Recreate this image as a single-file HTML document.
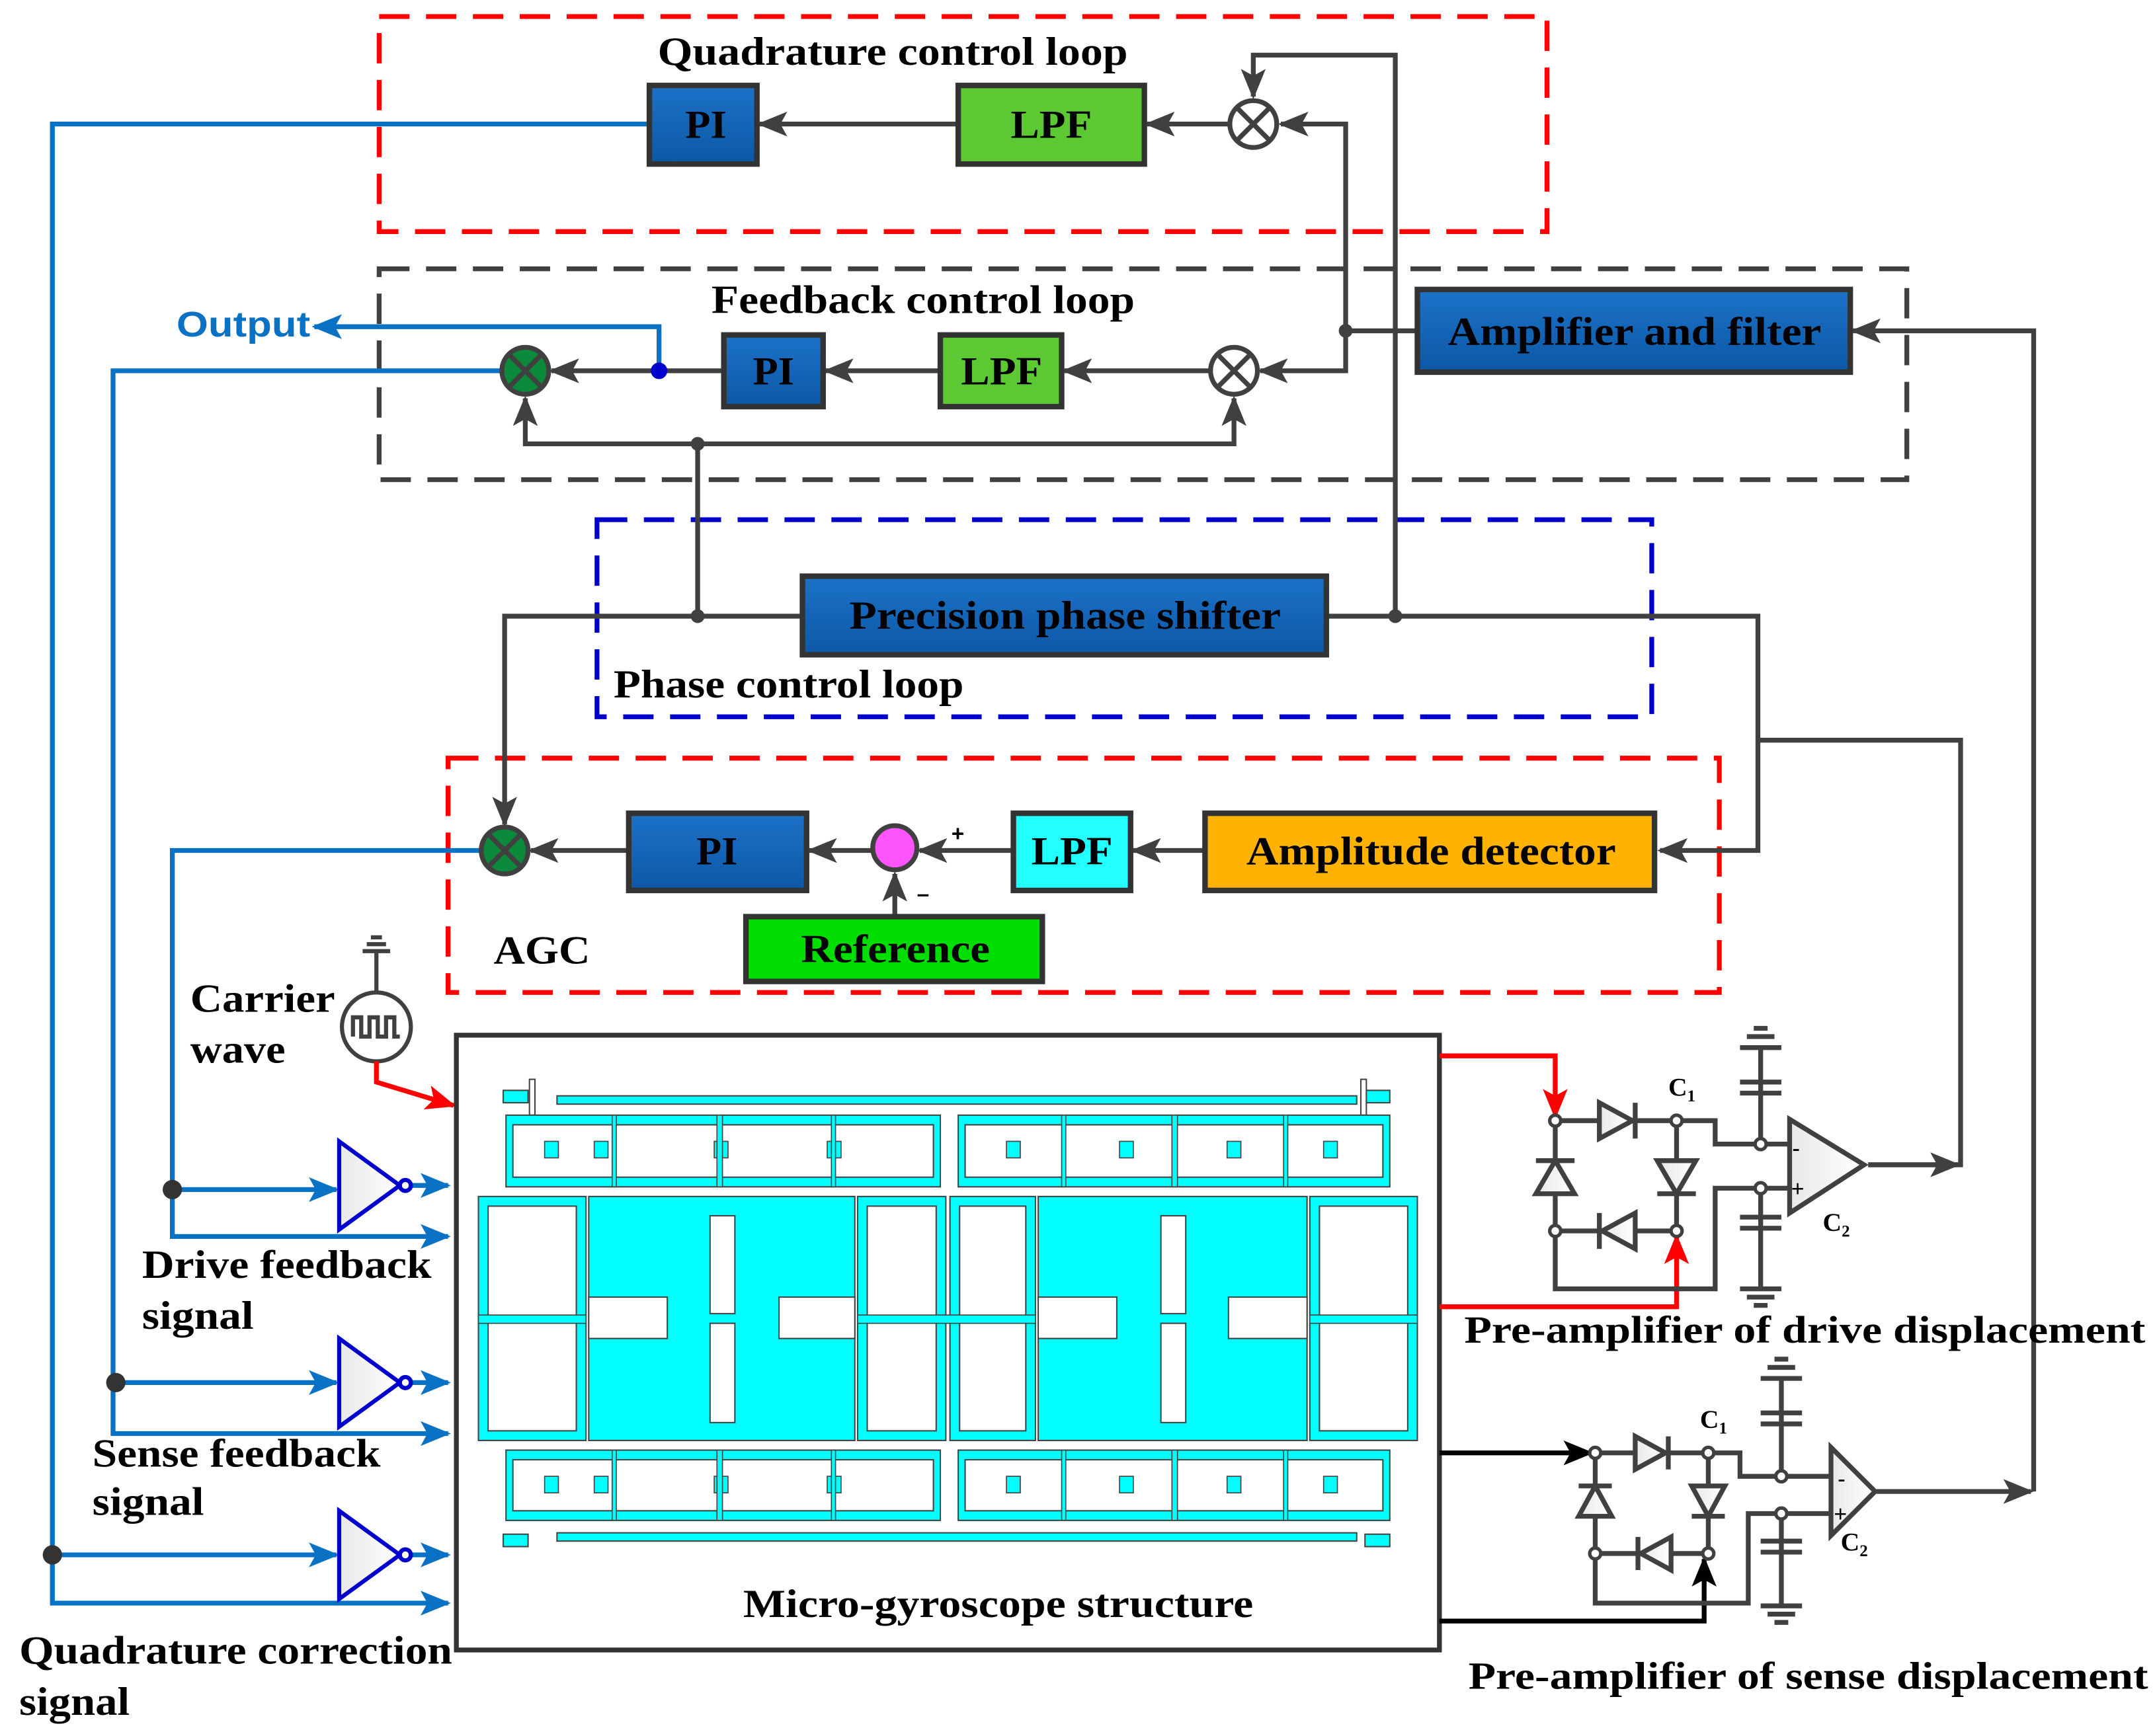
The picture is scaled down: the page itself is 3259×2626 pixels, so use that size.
<!DOCTYPE html>
<html><head><meta charset="utf-8"><style>
html,body{margin:0;padding:0;background:#fff;}
svg{display:block;}
text{font-family:"Liberation Serif",serif;font-weight:bold;}
</style></head><body>
<svg width="3259" height="2626" viewBox="0 0 1563 1259.4" preserveAspectRatio="none" xmlns="http://www.w3.org/2000/svg">
<defs>
<marker id="ag" markerUnits="userSpaceOnUse" markerWidth="22" markerHeight="18" refX="20" refY="9" orient="auto"><path d="M0,0 L22,9 L0,18 L5,9 Z" fill="#404040"/></marker>
<marker id="ab" markerUnits="userSpaceOnUse" markerWidth="22" markerHeight="18" refX="20" refY="9" orient="auto"><path d="M0,0 L22,9 L0,18 L5,9 Z" fill="#0a72c4"/></marker>
<marker id="ar" markerUnits="userSpaceOnUse" markerWidth="22" markerHeight="18" refX="20" refY="9" orient="auto"><path d="M0,0 L22,9 L0,18 L5,9 Z" fill="#ff0000"/></marker>
<marker id="ak" markerUnits="userSpaceOnUse" markerWidth="22" markerHeight="18" refX="20" refY="9" orient="auto"><path d="M0,0 L22,9 L0,18 L5,9 Z" fill="#000"/></marker>
<linearGradient id="bl" x1="0" y1="0" x2="0" y2="1"><stop offset="0" stop-color="#1c72c8"/><stop offset="1" stop-color="#0c58a6"/></linearGradient>
<linearGradient id="tri" x1="0" y1="0" x2="1" y2="0"><stop offset="0" stop-color="#e8e8e8"/><stop offset="1" stop-color="#fff"/></linearGradient>
</defs>

<rect x="275" y="12" width="847" height="156" fill="none" stroke="#ff0000" stroke-width="3.5" stroke-dasharray="22,12"/>
<rect x="275" y="195" width="1108" height="153" fill="none" stroke="#404040" stroke-width="3.5" stroke-dasharray="22,12"/>
<rect x="433" y="377" width="765" height="143" fill="none" stroke="#0000cc" stroke-width="3.5" stroke-dasharray="22,12"/>
<rect x="325" y="550" width="922" height="170" fill="none" stroke="#ff0000" stroke-width="3.5" stroke-dasharray="22,12"/>

<g font-size="29" lengthAdjust="spacingAndGlyphs">
<text x="477" y="47" textLength="341" lengthAdjust="spacingAndGlyphs">Quadrature control loop</text>
<text x="516" y="227" textLength="307" lengthAdjust="spacingAndGlyphs">Feedback control loop</text>
<text x="445" y="506" textLength="254" lengthAdjust="spacingAndGlyphs">Phase control loop</text>
<text x="358" y="699" textLength="70" lengthAdjust="spacingAndGlyphs">AGC</text>
</g>

<g fill="none" stroke="#404040" stroke-width="3.5">
<path d="M1012,447 V40 H909 V70" marker-end="url(#ag)"/>
<path d="M976,240 V90 H929" marker-end="url(#ag)"/>
<path d="M892,90 H832" marker-end="url(#ag)"/>
<path d="M695,90 H551" marker-end="url(#ag)"/>
<path d="M1028,240 H976 V269 H914" marker-end="url(#ag)"/>
<path d="M878,269 H772" marker-end="url(#ag)"/>
<path d="M682,269 H599" marker-end="url(#ag)"/>
<path d="M525,269 H400" marker-end="url(#ag)"/>
<path d="M506,322 H381 V289" marker-end="url(#ag)"/>
<path d="M506,322 H895 V289" marker-end="url(#ag)"/>
<path d="M506,322 V447"/>
<path d="M582,447 H366 V598" marker-end="url(#ag)"/>
<path d="M962,447 H1275 V617 H1204" marker-end="url(#ag)"/>
<path d="M1275,537 H1422 V845 H1355"/>
<path d="M874,617 H822" marker-end="url(#ag)"/>
<path d="M735,617 H667" marker-end="url(#ag)"/>
<path d="M632,617 H587" marker-end="url(#ag)"/>
<path d="M456,617 H385" marker-end="url(#ag)"/>
<path d="M649,665 V634" marker-end="url(#ag)"/>
<path d="M1355,845 H1420" marker-end="url(#ag)"/>
<path d="M1361,1082 H1473" marker-end="url(#ag)"/>
<path d="M1475,1082 V240 H1344" marker-end="url(#ag)"/>
</g>
<g fill="#404040"><circle cx="976" cy="240" r="5"/><circle cx="1012" cy="447" r="5"/><circle cx="506" cy="447" r="5"/><circle cx="506" cy="322" r="5"/></g>

<g fill="none" stroke="#0a72c4" stroke-width="3.5">
<path d="M471,90 H38 V1163 H325" marker-end="url(#ab)"/>
<path d="M363,269 H82 V1040 H325" marker-end="url(#ab)"/>
<path d="M349,617 H125 V897 H325" marker-end="url(#ab)"/>
<path d="M478,269 V237 H228" marker-end="url(#ab)"/>
<path d="M125,863 H244" marker-end="url(#ab)"/>
<path d="M84,1003 H244" marker-end="url(#ab)"/>
<path d="M38,1128 H244" marker-end="url(#ab)"/>
<path d="M298,860 H325" marker-end="url(#ab)"/>
<path d="M298,1003 H325" marker-end="url(#ab)"/>
<path d="M298,1128 H325" marker-end="url(#ab)"/>
</g>
<circle cx="478" cy="269" r="6" fill="#0000cc"/>
<g fill="#333"><circle cx="125" cy="863" r="7"/><circle cx="84" cy="1003" r="7"/><circle cx="38" cy="1128" r="7"/></g>
<text x="128" y="244" font-size="26" fill="#0a72c4" textLength="97" lengthAdjust="spacingAndGlyphs" style="font-family:'Liberation Sans',sans-serif">Output</text>

<g stroke="#0000cc" stroke-width="3" fill="url(#tri)">
<path d="M246,828 L290,860 L246,892 Z"/><circle cx="294" cy="860" r="4" fill="#fff"/>
<path d="M246,971 L290,1003 L246,1035 Z"/><circle cx="294" cy="1003" r="4" fill="#fff"/>
<path d="M246,1096 L290,1128 L246,1160 Z"/><circle cx="294" cy="1128" r="4" fill="#fff"/>
</g>

<g stroke="#333" stroke-width="4">
<rect x="471" y="62" width="78" height="57" fill="url(#bl)"/>
<rect x="695" y="62" width="135" height="57" fill="#5cc832"/>
<rect x="1028" y="210" width="314" height="60" fill="url(#bl)"/>
<rect x="525" y="243" width="72" height="52" fill="url(#bl)"/>
<rect x="682" y="243" width="88" height="52" fill="#5cc832"/>
<rect x="582" y="418" width="380" height="57" fill="url(#bl)"/>
<rect x="456" y="590" width="129" height="56" fill="url(#bl)"/>
<rect x="735" y="590" width="85" height="56" fill="#22ffff"/>
<rect x="874" y="590" width="326" height="56" fill="#ffb300"/>
<rect x="541" y="665" width="215" height="47" fill="#00dd00"/>
</g>
<g font-size="29">
<text x="497" y="100" textLength="30" lengthAdjust="spacingAndGlyphs">PI</text>
<text x="733" y="100" textLength="59" lengthAdjust="spacingAndGlyphs">LPF</text>
<text x="1050" y="250" textLength="271" lengthAdjust="spacingAndGlyphs">Amplifier and filter</text>
<text x="546" y="279" textLength="30" lengthAdjust="spacingAndGlyphs">PI</text>
<text x="697" y="279" textLength="59" lengthAdjust="spacingAndGlyphs">LPF</text>
<text x="616" y="456" textLength="313" lengthAdjust="spacingAndGlyphs">Precision phase shifter</text>
<text x="505" y="627" textLength="30" lengthAdjust="spacingAndGlyphs">PI</text>
<text x="748" y="627" textLength="59" lengthAdjust="spacingAndGlyphs">LPF</text>
<text x="904" y="627" textLength="268" lengthAdjust="spacingAndGlyphs">Amplitude detector</text>
<text x="581" y="698" textLength="137" lengthAdjust="spacingAndGlyphs">Reference</text>
</g>

<g stroke="#404040" stroke-width="3.5">
<circle cx="909" cy="90" r="17" fill="#fff"/><path d="M897,78 L921,102 M921,78 L897,102"/>
<circle cx="895" cy="269" r="17" fill="#fff"/><path d="M883,257 L907,281 M907,257 L883,281"/>
<circle cx="381" cy="269" r="17" fill="#0a8a3a"/><path d="M369,257 L393,281 M393,257 L369,281"/>
<circle cx="366" cy="617" r="17" fill="#0a8a3a"/><path d="M354,605 L378,629 M378,605 L354,629"/>
<circle cx="649" cy="615" r="16" fill="#ff55ff"/>
</g>
<text x="690" y="610" font-size="16" style="font-family:'Liberation Sans',sans-serif">+</text>
<text x="665" y="654" font-size="16" style="font-family:'Liberation Sans',sans-serif">–</text>

<g stroke="#404040" stroke-width="3" fill="none">
<path d="M273,720 V690 M263,690 H283 M266,685 H280 M269,680 H277"/>
<circle cx="273" cy="745" r="25" fill="#fff"/>
<path d="M256,752 V738 H262 V752 H268 V738 H274 V752 H280 V738 H286 V752 H290"/>
</g>
<path d="M273,770 V785 L329,802" fill="none" stroke="#ff0000" stroke-width="3.5" marker-end="url(#ar)"/>
<g font-size="29">
<text x="138" y="734" textLength="105" lengthAdjust="spacingAndGlyphs">Carrier</text>
<text x="138" y="771" textLength="69" lengthAdjust="spacingAndGlyphs">wave</text>
<text x="103" y="927" textLength="210" lengthAdjust="spacingAndGlyphs">Drive feedback</text>
<text x="103" y="964" textLength="81" lengthAdjust="spacingAndGlyphs">signal</text>
<text x="67" y="1064" textLength="209" lengthAdjust="spacingAndGlyphs">Sense feedback</text>
<text x="67" y="1099" textLength="81" lengthAdjust="spacingAndGlyphs">signal</text>
<text x="14" y="1207" textLength="314" lengthAdjust="spacingAndGlyphs">Quadrature correction</text>
<text x="14" y="1244" textLength="80" lengthAdjust="spacingAndGlyphs">signal</text>
</g>

<rect x="331" y="751" width="713" height="446" fill="#fff" stroke="#333" stroke-width="3.5"/>
<g fill="#00ffff" stroke="#444" stroke-width="1">
<rect x="404" y="795" width="580" height="6"/>
<rect x="365" y="791" width="18" height="9"/><rect x="990" y="791" width="18" height="9"/>
<rect x="384" y="783" width="4" height="26" fill="#fff"/><rect x="987" y="783" width="4" height="26" fill="#fff"/>
<rect x="367" y="809" width="315" height="52"/><rect x="372" y="816" width="305" height="38" fill="#fff"/>
<rect x="695" y="809" width="313" height="52"/><rect x="700" y="816" width="303" height="38" fill="#fff"/>
<rect x="367" y="1052" width="315" height="51"/><rect x="372" y="1059" width="305" height="37" fill="#fff"/>
<rect x="695" y="1052" width="313" height="51"/><rect x="700" y="1059" width="303" height="37" fill="#fff"/>
<rect x="404" y="1112" width="580" height="6"/>
<rect x="365" y="1113" width="18" height="9"/><rect x="990" y="1113" width="18" height="9"/>
<rect x="347" y="868" width="78" height="177"/><rect x="354" y="875" width="64" height="163" fill="#fff"/>
<rect x="622" y="868" width="64" height="177"/><rect x="629" y="875" width="50" height="163" fill="#fff"/>
<rect x="689" y="868" width="62" height="177"/><rect x="696" y="875" width="48" height="163" fill="#fff"/>
<rect x="950" y="868" width="78" height="177"/><rect x="957" y="875" width="64" height="163" fill="#fff"/>
<rect x="427" y="868" width="193" height="177"/>
<rect x="753" y="868" width="195" height="177"/>
</g>
<g fill="#fff" stroke="#444" stroke-width="1">
<rect x="515" y="882" width="18" height="71"/><rect x="515" y="960" width="18" height="72"/>
<rect x="842" y="882" width="18" height="71"/><rect x="842" y="960" width="18" height="72"/>
<rect x="427" y="941" width="57" height="30"/><rect x="565" y="941" width="55" height="30"/>
<rect x="753" y="941" width="57" height="30"/><rect x="891" y="941" width="57" height="30"/>
</g>
<g fill="#00ffff" stroke="#444" stroke-width="0.8">
<rect x="431" y="828" width="10" height="12"/><rect x="518" y="828" width="10" height="12"/><rect x="600" y="828" width="10" height="12"/><rect x="395" y="828" width="10" height="12"/>
<rect x="730" y="828" width="10" height="12"/><rect x="812" y="828" width="10" height="12"/><rect x="890" y="828" width="10" height="12"/><rect x="960" y="828" width="10" height="12"/>
<rect x="431" y="1071" width="10" height="12"/><rect x="518" y="1071" width="10" height="12"/><rect x="600" y="1071" width="10" height="12"/><rect x="395" y="1071" width="10" height="12"/>
<rect x="730" y="1071" width="10" height="12"/><rect x="812" y="1071" width="10" height="12"/><rect x="890" y="1071" width="10" height="12"/><rect x="960" y="1071" width="10" height="12"/>
<rect x="444" y="809" width="3" height="52"/><rect x="520" y="809" width="4" height="52"/><rect x="603" y="809" width="3" height="52"/>
<rect x="770" y="809" width="3" height="52"/><rect x="850" y="809" width="4" height="52"/><rect x="931" y="809" width="3" height="52"/>
<rect x="444" y="1052" width="3" height="51"/><rect x="520" y="1052" width="4" height="51"/><rect x="603" y="1052" width="3" height="51"/>
<rect x="770" y="1052" width="3" height="51"/><rect x="850" y="1052" width="4" height="51"/><rect x="931" y="1052" width="3" height="51"/>
<rect x="347" y="954" width="78" height="6"/><rect x="622" y="954" width="129" height="6"/><rect x="950" y="954" width="78" height="6"/>
</g>
<text x="539" y="1173" font-size="29" textLength="370" lengthAdjust="spacingAndGlyphs">Micro-gyroscope structure</text>

<g fill="none" stroke="#ff0000" stroke-width="3.5">
<path d="M1044,766 H1128 V810" marker-end="url(#ar)"/>
<path d="M1044,948 H1216 V897" marker-end="url(#ar)"/>
</g>
<g fill="none" stroke="#000" stroke-width="3.5">
<path d="M1044,1054 H1154" marker-end="url(#ak)"/>
<path d="M1044,1176 H1236 V1131" marker-end="url(#ak)"/>
</g>

<g stroke="#404040" stroke-width="3.5" fill="none">
<path d="M1128,813 H1216 M1128,813 V893 M1216,813 V893 M1128,893 H1216 M1128,893 V935 H1244 V862 H1298 M1216,813 H1244 V830 H1298"/>
<path d="M1277,830 V785 M1277,862 V935 M1262,785 H1292 M1262,793 H1292 M1262,883 H1292 M1262,891 H1292 M1262,935 H1292 M1267,941 H1287 M1272,947 H1282"/>
<path d="M1277,785 V760 M1262,760 H1292 M1267,752 H1287 M1272,746 H1282"/>
</g>
<g stroke="#404040" stroke-width="3.5" fill="url(#tri)">
<path d="M1160,800 L1184,813 L1160,826 Z"/><path d="M1186,800 V826"/>
<path d="M1114,866 L1128,842 L1142,866 Z"/><path d="M1114,842 H1142"/>
<path d="M1202,842 L1216,866 L1230,842 Z"/><path d="M1202,866 H1230"/>
<path d="M1186,880 L1162,893 L1186,906 Z"/><path d="M1160,880 V906"/>
<path d="M1298,812 L1352,845 L1298,880 Z"/>
</g>
<g fill="#fff" stroke="#404040" stroke-width="2.5"><circle cx="1128" cy="813" r="4"/><circle cx="1216" cy="813" r="4"/><circle cx="1128" cy="893" r="4"/><circle cx="1216" cy="893" r="4"/><circle cx="1277" cy="830" r="4"/><circle cx="1277" cy="862" r="4"/></g>
<g style="font-family:'Liberation Sans',sans-serif" font-weight="bold">
<text x="1210" y="795" font-size="19">C<tspan font-size="12" dy="4">1</tspan></text>
<text x="1322" y="893" font-size="19">C<tspan font-size="12" dy="4">2</tspan></text>
<text x="1300" y="838" font-size="16">-</text><text x="1299" y="868" font-size="17">+</text>
</g>
<text x="1062" y="974" font-size="28" textLength="494" lengthAdjust="spacingAndGlyphs">Pre-amplifier of drive displacement</text>

<g stroke="#404040" stroke-width="3.5" fill="none">
<path d="M1157,1054 H1239 M1157,1054 V1127 M1239,1054 V1127 M1157,1127 H1239 M1157,1127 V1163 H1268 V1098 H1328 M1239,1054 H1262 V1071 H1328"/>
<path d="M1292,1071 V1025 M1292,1098 V1165 M1277,1025 H1307 M1277,1033 H1307 M1277,1118 H1307 M1277,1126 H1307 M1277,1165 H1307 M1282,1171 H1302 M1287,1177 H1297"/>
<path d="M1292,1025 V1000 M1277,1000 H1307 M1282,992 H1302 M1287,986 H1297"/>
</g>
<g stroke="#404040" stroke-width="3.5" fill="url(#tri)">
<path d="M1186,1042 L1208,1054 L1186,1066 Z"/><path d="M1210,1042 V1066"/>
<path d="M1145,1100 L1157,1078 L1169,1100 Z"/><path d="M1145,1078 H1169"/>
<path d="M1227,1078 L1239,1100 L1251,1078 Z"/><path d="M1227,1100 H1251"/>
<path d="M1212,1115 L1190,1127 L1212,1139 Z"/><path d="M1188,1115 V1139"/>
<path d="M1328,1050 L1360,1082 L1328,1114 Z"/>
</g>
<g fill="#fff" stroke="#404040" stroke-width="2.5"><circle cx="1157" cy="1054" r="4"/><circle cx="1239" cy="1054" r="4"/><circle cx="1157" cy="1127" r="4"/><circle cx="1239" cy="1127" r="4"/><circle cx="1292" cy="1071" r="4"/><circle cx="1292" cy="1098" r="4"/></g>
<g style="font-family:'Liberation Sans',sans-serif" font-weight="bold">
<text x="1233" y="1036" font-size="19">C<tspan font-size="12" dy="4">1</tspan></text>
<text x="1335" y="1125" font-size="19">C<tspan font-size="12" dy="4">2</tspan></text>
<text x="1333" y="1078" font-size="16">-</text><text x="1330" y="1104" font-size="17">+</text>
</g>
<text x="1065" y="1225" font-size="28" textLength="493" lengthAdjust="spacingAndGlyphs">Pre-amplifier of sense displacement</text>
</svg>
</body></html>
